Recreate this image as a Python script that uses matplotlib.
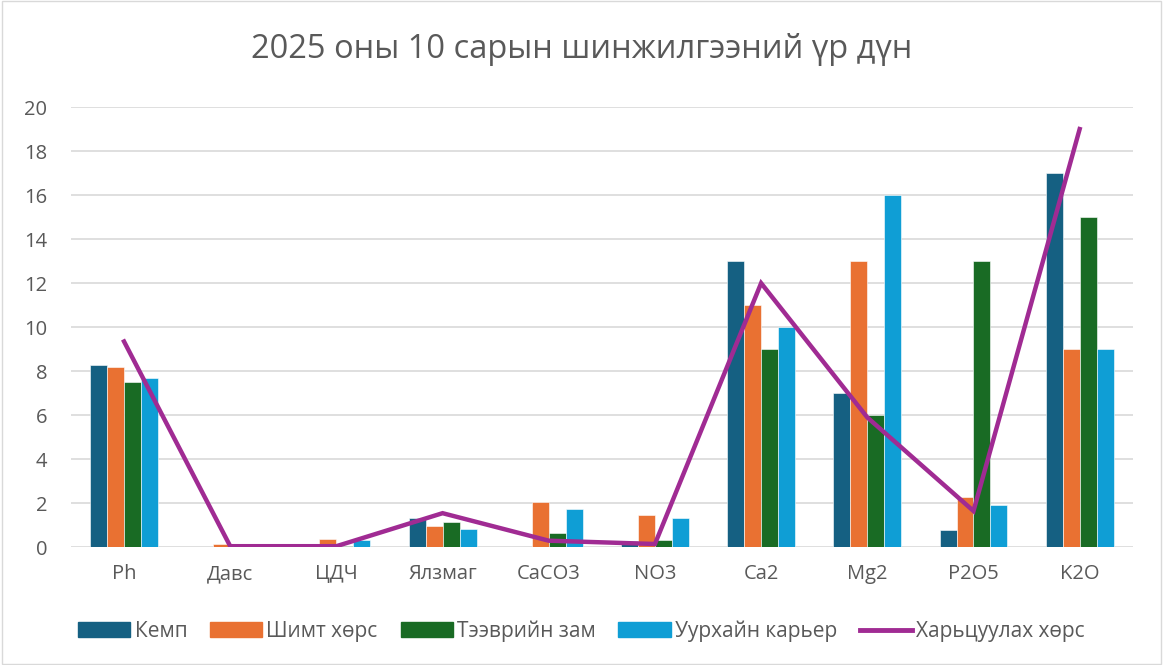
import matplotlib
matplotlib.use("Agg")
import matplotlib.pyplot as plt
import numpy as np
from matplotlib.patches import Rectangle
from matplotlib.lines import Line2D

categories = ["Ph", "Давс", "ЦДЧ", "Ялзмаг", "CaCO3", "NO3", "Ca2", "Mg2", "P2O5", "K2O"]
kemp = [8.3, 0.0, 0.0, 1.33, 0.0, 0.3, 13, 7, 0.8, 17]
shimt = [8.2, 0.15, 0.36, 0.97, 2.08, 1.48, 11, 13, 2.3, 9]
teevriin = [7.5, 0.0, 0.05, 1.15, 0.64, 0.33, 9, 6, 13, 15]
uurhai = [7.7, 0.0, 0.33, 0.82, 1.76, 1.32, 10, 16, 1.9, 9]
hartsuulah = [9.35, 0.05, 0.05, 1.55, 0.3, 0.15, 12, 5.9, 1.65, 19]

series_names = ["Кемп", "Шимт хөрс", "Тээврийн зам", "Уурхайн карьер"]
colors = ["#156082", "#E97132", "#196B24", "#0F9ED5"]
line_name = "Харьцуулах хөрс"
line_color = "#A02B93"

plt.rcParams['font.family'] = ['Open Sans', 'DejaVu Sans']
text_color = "#595959"

fig = plt.figure(figsize=(11.63, 6.65), dpi=100)
ax = fig.add_axes([0.061, 0.177, 0.913, 0.662])

x = np.arange(len(categories))
w = 0.16
for i, (vals, c, n) in enumerate(zip([kemp, shimt, teevriin, uurhai], colors, series_names)):
    ax.bar(x + (i - 1.5) * w, vals, width=w, color=c, label=n, zorder=3,
           edgecolor="white", linewidth=0.4)
ax.plot(x, hartsuulah, color=line_color, linewidth=3.2, zorder=4, label=line_name,
        solid_joinstyle="miter")

ax.set_xlim(-0.5, len(categories) - 0.5)
ax.set_ylim(0, 20)
ax.set_yticks(np.arange(0, 21, 2))
ax.set_xticks(x)
ax.set_xticklabels(categories)
ax.grid(axis="y", color="#D9D9D9", linewidth=1.2, zorder=0)
for s in ax.spines.values():
    s.set_visible(False)
ax.tick_params(axis="both", length=0, labelsize=14.5, colors=text_color)
ax.tick_params(axis="x", pad=12)
ax.tick_params(axis="y", pad=17)

fig.text(0.5, 0.925, "2025 оны 10 сарын шинжилгээний үр дүн", ha="center", va="center",
         fontsize=23.5, color=text_color)

handles = [Rectangle((0, 0), 1, 1, color=c) for c in colors]
handles.append(Line2D([0], [0], color=line_color, linewidth=3.5))
fig.legend(handles, series_names + [line_name], loc="center", bbox_to_anchor=(0.5, 0.051),
           ncol=5, frameon=False, fontsize=15, labelcolor=text_color,
           handlelength=2.5, handletextpad=0.2, columnspacing=1.1)

fig.patches.append(Rectangle((0.002, 0.002), 0.996, 0.996, transform=fig.transFigure,
                             fill=False, edgecolor="#D9D9D9", linewidth=1))

fig.savefig("out.png", dpi=100)
